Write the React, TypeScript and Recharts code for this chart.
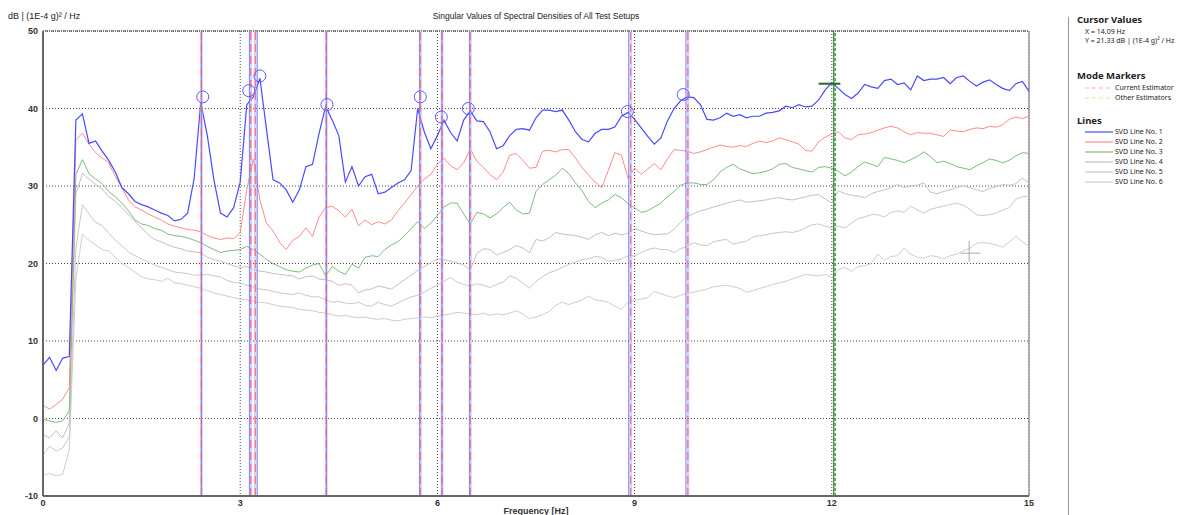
import { LineChart, Line, XAxis, YAxis, CartesianGrid, ReferenceLine, ReferenceDot } from 'recharts';

// frequency axis [Hz]
const freq = [
  0, 0.1, 0.2, 0.3, 0.4, 0.5, 0.6, 0.7, 0.8, 0.9,
  1, 1.1, 1.2, 1.3, 1.4, 1.5, 1.6, 1.7, 1.8, 1.9,
  2, 2.1, 2.2, 2.3, 2.4, 2.5, 2.6, 2.7, 2.8, 2.9,
  3, 3.1, 3.2, 3.3, 3.4, 3.5, 3.6, 3.7, 3.8, 3.9,
  4, 4.1, 4.2, 4.3, 4.4, 4.5, 4.6, 4.7, 4.8, 4.9,
  5, 5.1, 5.2, 5.3, 5.4, 5.5, 5.6, 5.7, 5.8, 5.9,
  6, 6.1, 6.2, 6.3, 6.4, 6.5, 6.6, 6.7, 6.8, 6.9,
  7, 7.1, 7.2, 7.3, 7.4, 7.5, 7.6, 7.7, 7.8, 7.9,
  8, 8.1, 8.2, 8.3, 8.4, 8.5, 8.6, 8.7, 8.8, 8.9,
  9, 9.1, 9.2, 9.3, 9.4, 9.5, 9.6, 9.7, 9.8, 9.9,
  10, 10.1, 10.2, 10.3, 10.4, 10.5, 10.6, 10.7, 10.8, 10.9,
  11, 11.1, 11.2, 11.3, 11.4, 11.5, 11.6, 11.7, 11.8, 11.9,
  12, 12.1, 12.2, 12.3, 12.4, 12.5, 12.6, 12.7, 12.8, 12.9,
  13, 13.1, 13.2, 13.3, 13.4, 13.5, 13.6, 13.7, 13.8, 13.9,
  14, 14.1, 14.2, 14.3, 14.4, 14.5, 14.6, 14.7, 14.8, 14.9,
  15,
];

// singular values in dB
const svd1 = [
  6.9, 7.9, 6.2, 7.8, 8.0, 38.5, 39.3, 35.5, 35.8, 34.5,
  33.3, 31.8, 29.8, 29.0, 28.0, 27.6, 27.3, 26.9, 26.5, 26.2,
  25.5, 25.7, 26.5, 31.0, 40.8, 36.5, 30.8, 26.5, 26.0, 27.2,
  30.5, 40.5, 41.5, 43.9, 37.3, 30.8, 30.4, 29.5, 27.9, 29.5,
  32.5, 32.8, 36.8, 40.3, 38.5, 36.5, 30.5, 32.5, 30.0, 31.2,
  31.5, 29.0, 29.2, 29.8, 30.4, 30.8, 32.0, 40.0, 37.0, 34.8,
  36.5, 38.5, 36.9, 35.8, 38.5, 39.7, 38.4, 38.3, 37.0, 34.8,
  35.2, 36.5, 37.3, 37.4, 37.2, 38.8, 39.8, 39.8, 39.6, 39.8,
  38.5, 37.0, 36.0, 35.7, 36.8, 37.3, 37.3, 37.6, 39.0, 39.5,
  38.6, 37.5, 36.4, 35.4, 36.2, 38.4, 40.0, 41.0, 41.5, 41.4,
  40.5, 38.6, 38.5, 38.8, 39.4, 39.0, 39.2, 38.8, 39.0, 39.0,
  39.4, 39.5, 39.7, 40.3, 40.1, 40.5, 40.2, 40.3, 41.1, 42.4,
  43.3, 42.6, 41.8, 41.3, 42.0, 43.1, 42.8, 42.6, 43.6, 43.8,
  43.1, 43.3, 42.4, 44.2, 43.6, 43.8, 43.8, 44.0, 43.2, 44.0,
  44.2, 43.5, 42.9, 43.4, 43.7, 43.1, 42.6, 42.3, 43.2, 43.5,
  42.2,
];
const svd2 = [
  1.7, 1.2, 1.8, 2.5, 4.0, 36.0, 36.8, 35.4, 34.3, 33.6,
  33.0, 31.2, 29.8, 28.2, 27.3, 26.9, 26.4, 26.0, 25.6, 25.1,
  24.8, 24.6, 24.4, 24.3, 24.1, 23.6, 23.3, 23.1, 23.3, 23.2,
  24.0, 29.5, 33.5, 28.2, 25.2, 24.2, 22.7, 21.8, 23.0, 23.5,
  24.6, 23.5, 26.0, 27.2, 27.4, 26.8, 26.0, 27.0, 24.9, 25.6,
  25.0, 25.4, 25.1, 25.6, 26.8, 27.8, 28.9, 30.0, 30.9, 31.5,
  32.8, 33.6, 32.6, 32.1, 33.0, 34.8, 33.2, 32.4, 31.5, 30.8,
  31.8, 34.0, 34.2, 33.3, 32.3, 32.4, 34.5, 34.6, 34.4, 34.7,
  34.7, 33.6, 32.4, 31.4, 30.5, 29.8, 32.0, 34.3, 34.0, 31.0,
  32.3, 31.5, 32.2, 32.9, 32.1, 33.5, 34.7, 34.6, 34.5, 34.2,
  34.4, 34.7, 35.0, 35.3, 35.1, 35.0, 35.2, 35.1, 35.5, 35.8,
  35.6, 35.8, 36.2, 36.0, 35.7, 35.4, 34.6, 34.5, 35.7, 36.3,
  36.7, 37.0, 36.2, 36.0, 36.6, 36.7, 36.9, 37.2, 37.5, 37.7,
  37.5, 37.0, 36.6, 36.9, 36.8, 36.8, 36.6, 36.4, 37.2, 37.1,
  37.0, 37.3, 37.5, 37.4, 37.7, 37.6, 37.9, 38.6, 38.9, 38.7,
  39.0,
];
const svd3 = [
  -0.1, -0.3, -0.5, -0.3, 1.0, 31.5, 33.4, 31.6, 30.9, 30.3,
  29.3, 28.6, 27.8, 26.8, 25.6, 25.1, 24.9, 24.5, 24.3, 23.8,
  23.6, 23.5, 23.3, 23.0, 22.7, 22.2, 21.8, 21.4, 21.6, 21.7,
  21.8, 22.2, 21.8, 21.2, 20.5, 20.0, 19.6, 19.2, 19.0, 18.9,
  19.4, 19.8, 20.0, 18.4, 19.6, 19.0, 18.6, 19.9, 19.4, 20.8,
  21.0, 20.9, 21.8, 22.4, 22.8, 23.6, 24.5, 25.4, 24.5, 25.2,
  26.2, 27.3, 27.8, 27.8, 26.4, 25.1, 26.6, 26.4, 25.9, 26.4,
  27.2, 27.9, 26.9, 26.4, 26.5, 29.3, 30.2, 30.8, 31.4, 32.3,
  31.6, 30.4, 29.4, 28.0, 27.2, 27.8, 28.2, 28.9, 28.5, 27.7,
  27.2, 26.6, 26.8, 27.3, 27.8, 28.6, 29.3, 30.1, 30.4, 30.4,
  30.2, 30.2, 30.8, 31.8, 32.4, 32.8, 32.2, 31.9, 31.6, 31.7,
  31.9, 32.2, 32.8, 32.9, 32.4, 32.2, 32.0, 31.8, 32.4, 32.5,
  32.3, 31.9, 31.3, 31.8, 32.5, 33.1, 32.8, 32.5, 33.7, 33.5,
  33.3, 33.0, 33.4, 33.8, 34.4, 33.8, 33.0, 33.2, 32.9, 32.5,
  32.3, 32.1, 32.6, 33.0, 33.5, 33.3, 33.0, 33.3, 33.9, 34.3,
  34.2,
];
const svd4 = [
  -2.1, -2.5, -1.6, -2.5, -0.6, 29.0, 31.6, 30.9, 30.2, 29.6,
  28.6, 28.0, 27.2, 26.3, 25.4, 24.6, 23.7, 23.1, 22.8, 22.4,
  22.1, 21.9, 21.6, 21.5, 21.4, 20.8, 20.5, 20.3, 20.0, 19.7,
  19.5, 19.6, 19.2, 19.0, 18.9, 18.7, 18.6, 18.5, 18.4, 18.0,
  18.3, 18.4, 18.0, 17.9, 17.7, 17.2, 17.4, 17.2, 16.2, 16.6,
  16.7, 17.1, 16.9, 16.7, 17.3, 17.9, 18.5, 19.1, 19.6, 20.1,
  20.6, 20.5, 20.3, 20.1, 19.8, 19.2, 21.3, 21.9, 21.8, 21.1,
  21.4, 21.8, 22.3, 22.0, 21.4, 23.1, 22.9, 23.3, 24.0, 23.8,
  23.7, 23.6, 23.4, 23.1, 23.7, 24.0, 23.6, 23.9, 23.7, 23.9,
  24.5, 24.2, 23.9, 23.7, 23.8, 23.8, 24.4, 25.3, 26.1, 26.4,
  26.8, 27.0, 27.3, 27.5, 27.8, 28.0, 28.2, 27.9, 28.0, 28.1,
  28.2, 28.4, 28.5, 28.3, 28.2, 28.4, 28.6, 28.8, 28.9, 28.3,
  27.8, 29.4, 29.0, 28.8, 28.7, 28.5, 29.0, 29.3, 29.5, 29.8,
  30.2, 29.8, 30.0, 30.1, 30.4, 29.2, 29.0, 29.3, 29.5, 29.8,
  30.0, 29.8, 29.5, 29.3, 29.7, 29.9, 30.2, 30.1, 30.3, 31.0,
  30.4,
];
const svd5 = [
  -4.7, -3.6, -4.2, -3.8, -2.4, 22.0, 27.6, 26.4, 25.3, 24.9,
  23.9, 23.0, 22.3, 21.5, 21.0, 20.6, 20.2, 19.8, 19.5, 19.2,
  18.9, 18.8, 18.7, 18.5, 18.5, 18.6, 18.4, 18.3, 17.8, 17.6,
  17.5, 17.2, 17.0, 16.7, 16.6, 16.4, 16.2, 16.1, 16.0, 16.2,
  15.9, 15.7, 15.7, 15.3, 15.0, 15.1, 14.9, 14.8, 15.0, 14.6,
  14.5, 15.0, 14.7, 14.5, 14.9, 15.3, 15.7, 15.9, 16.3, 16.8,
  17.2, 17.7, 18.2, 17.6, 17.3, 17.1, 17.4, 17.2, 16.9, 17.3,
  17.6, 18.4, 18.1, 17.5, 16.8, 17.7, 18.3, 18.8, 19.1, 19.5,
  19.9, 20.2, 20.5, 20.6, 20.9, 20.8, 20.3, 20.4, 20.6, 21.0,
  21.0, 21.4, 21.8, 22.0, 21.8, 21.8, 21.4, 21.9, 22.2, 22.7,
  22.4, 22.3, 22.8, 23.0, 23.1, 22.5, 22.7, 22.9, 23.4, 23.6,
  23.7, 23.9, 24.0, 24.1, 24.0, 24.2, 24.6, 25.0, 25.1, 24.8,
  24.6, 24.8, 24.6, 25.2, 25.8, 26.0, 26.3, 26.3, 26.0, 26.6,
  26.8, 26.6, 27.4, 26.9, 26.5, 27.0, 27.2, 27.4, 27.6, 27.8,
  27.5, 27.0, 26.3, 26.2, 26.3, 26.5, 26.9, 27.2, 28.3, 28.6,
  28.7,
];
const svd6 = [
  -7.3, -7.1, -7.4, -7.2, -4.0, 18.0, 23.8, 23.0, 22.4, 21.8,
  21.6, 20.8, 20.0, 19.5, 18.9, 18.3, 18.0, 17.9, 17.7, 18.1,
  17.5, 17.4, 17.2, 17.0, 16.8, 16.5, 16.2, 16.0, 15.8, 15.6,
  15.4, 15.3, 15.1, 15.0, 14.9, 14.7, 14.5, 14.4, 14.3, 14.1,
  14.0, 13.9, 13.7, 13.6, 13.4, 13.2, 13.3, 13.1, 13.0, 13.1,
  12.9, 12.8, 12.9, 12.7, 12.6, 12.8, 12.9, 13.0, 13.1, 13.0,
  13.2, 13.4, 13.5, 13.7, 13.6, 13.5, 13.4, 13.6, 13.3, 13.5,
  13.4, 13.6, 13.9, 13.5, 12.9, 13.1, 13.4, 13.8, 14.6, 15.0,
  14.7, 15.0, 15.3, 15.8, 15.3, 15.2, 15.0, 14.5, 14.1, 15.0,
  15.3, 15.4, 15.6, 16.4, 16.1, 15.8, 15.6, 15.9, 16.2, 16.3,
  16.5, 16.7, 17.0, 17.1, 17.2, 17.0, 16.8, 16.3, 16.5, 16.8,
  17.0, 17.3, 17.5, 17.7, 18.0, 18.3, 18.6, 18.5, 18.4, 18.6,
  18.2, 19.2, 19.5, 19.0, 19.6, 19.7, 20.0, 21.2, 20.4, 20.9,
  21.0, 22.0, 21.2, 20.8, 20.7, 21.0, 20.9, 20.6, 21.0, 21.2,
  21.6, 22.0, 22.6, 22.7, 22.6, 22.4, 22.1, 22.8, 23.5, 22.8,
  22.2,
];

// mode markers (current estimator) and picked peaks
const modeFreqs = [2.41, 3.16, 3.23, 4.31, 5.74, 6.07, 6.5, 8.94, 9.81];
const pickFreqs = [2.41, 3.14, 3.26, 4.31, 5.73, 6.07, 6.49, 8.91, 9.78];
const peakFreqs = [2.43, 3.13, 3.3, 4.32, 5.74, 6.06, 6.47, 8.89, 9.74];
const peakDb = [41.5, 42.3, 44.2, 40.5, 41.5, 38.9, 40.0, 39.6, 41.8];

const xTicks = [0, 3, 6, 9, 12, 15];
const yTicks = [-10, 0, 10, 20, 30, 40, 50];

const cursorX = 14.09;
const cursorY = 21.33;
const markerCursor = 12.03;
const markerLevel = 43.2;

const lineNames = ['SVD Line No. 1', 'SVD Line No. 2', 'SVD Line No. 3', 'SVD Line No. 4', 'SVD Line No. 5', 'SVD Line No. 6'];
const lineColors = ['#4a4aff', '#ff8a8a', '#7cbc7c', '#c2c2c2', '#c8c8c8', '#cecece'];

const rows = freq.map((f, i) => ({
  f,
  s1: svd1[i],
  s2: svd2[i],
  s3: svd3[i],
  s4: svd4[i],
  s5: svd5[i],
  s6: svd6[i],
}));

const tickStyle = { fontFamily: 'Liberation Sans, Arial, sans-serif', fontSize: 9, fontWeight: 'bold', fill: '#333' };
const legendFont = '"Noto Sans", "Open Sans", sans-serif';

function Sample({ color, dashed }: { color: string; dashed?: boolean }) {
  return (
    <svg width={28} height={4} style={{ display: 'block' }}>
      <line x1={0} y1={2} x2={28} y2={2} stroke={color} strokeWidth={1.2} strokeDasharray={dashed ? '4 3' : undefined} />
    </svg>
  );
}

export default function App() {
  return (
    <div style={{ position: 'absolute', left: 0, top: 0, width: 1180, height: 515, background: '#fff', overflow: 'hidden' }}>
      <LineChart width={1180} height={515} data={rows} margin={{ top: 31, right: 151, bottom: 3, left: 13 }}>
        <CartesianGrid stroke="#444" strokeDasharray="1 2" />
        <XAxis
          dataKey="f"
          type="number"
          domain={[0, 15]}
          ticks={xTicks}
          tick={tickStyle}
          tickLine={false}
          tickSize={2}
          height={16}
          axisLine={{ stroke: '#666', strokeWidth: 2 }}
        />
        <YAxis
          type="number"
          domain={[-10, 50]}
          ticks={yTicks}
          tick={tickStyle}
          tickLine={false}
          tickSize={3}
          width={30}
          allowDataOverflow
          axisLine={{ stroke: '#666', strokeWidth: 2 }}
        />
        <ReferenceLine y={50} stroke="#777" strokeWidth={2} strokeDasharray="1 1" />
        <ReferenceLine x={15} stroke="#999" strokeWidth={1.5} />

        <Line dataKey="s6" stroke={lineColors[5]} strokeWidth={1} dot={false} isAnimationActive={false} />
        <Line dataKey="s5" stroke={lineColors[4]} strokeWidth={1} dot={false} isAnimationActive={false} />
        <Line dataKey="s4" stroke={lineColors[3]} strokeWidth={1} dot={false} isAnimationActive={false} />
        <Line dataKey="s3" stroke={lineColors[2]} strokeWidth={1} dot={false} isAnimationActive={false} />
        <Line dataKey="s2" stroke={lineColors[1]} strokeWidth={1} dot={false} isAnimationActive={false} />
        <Line dataKey="s1" stroke={lineColors[0]} strokeWidth={1.2} dot={false} isAnimationActive={false} />

        {modeFreqs.map((f) => (
          <ReferenceLine key={`band-${f}`} x={f} stroke="#b8b8ff" strokeOpacity={0.6} strokeWidth={3} />
        ))}
        {pickFreqs.map((f) => (
          <ReferenceLine key={`pick-${f}`} x={f} stroke="#6a6aff" strokeOpacity={0.8} strokeWidth={1} />
        ))}
        {modeFreqs.map((f) => (
          <ReferenceLine key={`mode-${f}`} x={f} stroke="#ff5a5a" strokeOpacity={0.75} strokeWidth={1.3} strokeDasharray="8 4" />
        ))}
        {peakFreqs.map((f, i) => (
          <ReferenceDot key={`peak-${f}`} x={f} y={peakDb[i]} r={6} fill="none" stroke="#5a5aff" strokeWidth={1} />
        ))}

        <ReferenceLine x={markerCursor} stroke="#2a7d2a" strokeWidth={1.2} />
        <ReferenceLine x={markerCursor + 0.02} stroke="#3f9a3f" strokeWidth={1.5} strokeDasharray="3 2" />
        <ReferenceLine
          segment={[{ x: markerCursor - 0.23, y: markerLevel }, { x: markerCursor + 0.1, y: markerLevel }]}
          stroke="#1e6e1e"
          strokeWidth={2}
        />
        <ReferenceLine
          segment={[{ x: cursorX - 0.13, y: cursorY }, { x: cursorX + 0.17, y: cursorY }]}
          stroke="#aaa"
          strokeWidth={1}
        />
        <ReferenceLine
          segment={[{ x: cursorX, y: cursorY - 1.1 }, { x: cursorX, y: cursorY + 1.6 }]}
          stroke="#aaa"
          strokeWidth={1}
        />
      </LineChart>

      <div style={{ position: 'absolute', left: 8, top: 11, fontFamily: 'Liberation Sans, Arial, sans-serif', fontSize: 9, color: '#222' }}>
        dB | (1E-4 g)² / Hz
      </div>
      <div style={{ position: 'absolute', left: 336, width: 400, top: 11, textAlign: 'center', fontFamily: 'Liberation Sans, Arial, sans-serif', fontSize: 8.5, color: '#222' }}>
        Singular Values of Spectral Densities of All Test Setups
      </div>
      <div style={{ position: 'absolute', left: 436, width: 200, top: 506, textAlign: 'center', fontFamily: 'Liberation Sans, Arial, sans-serif', fontSize: 9, fontWeight: 'bold', color: '#333' }}>
        Frequency [Hz]
      </div>

      <div style={{ position: 'absolute', left: 1068, top: 17, width: 1, height: 498, background: '#9a9a9a' }} />
      <div style={{ position: 'absolute', left: 1077, top: 0, fontFamily: legendFont, color: '#222' }}>
        <div style={{ position: 'absolute', top: 13, fontSize: 9.5, fontWeight: 'bold', whiteSpace: 'nowrap' }}>Cursor Values</div>
        <div style={{ position: 'absolute', left: 8, top: 27, fontSize: 7, whiteSpace: 'nowrap' }}>X = 14.09 Hz</div>
        <div style={{ position: 'absolute', left: 8, top: 36, fontSize: 7, whiteSpace: 'nowrap' }}>Y = 21.33 dB | (1E-4 g)² / Hz</div>

        <div style={{ position: 'absolute', top: 69, fontSize: 9.5, fontWeight: 'bold', whiteSpace: 'nowrap' }}>Mode Markers</div>
        <div style={{ position: 'absolute', left: 8, top: 86 }}><Sample color="#ffb0b0" dashed /></div>
        <div style={{ position: 'absolute', left: 38, top: 83, fontSize: 7, whiteSpace: 'nowrap' }}>Current Estimator</div>
        <div style={{ position: 'absolute', left: 8, top: 96 }}><Sample color="#ffd8a0" dashed /></div>
        <div style={{ position: 'absolute', left: 38, top: 93, fontSize: 7, whiteSpace: 'nowrap' }}>Other Estimators</div>

        <div style={{ position: 'absolute', top: 114, fontSize: 9.5, fontWeight: 'bold', whiteSpace: 'nowrap' }}>Lines</div>
        {lineNames.map((name, i) => (
          <div key={name}>
            <div style={{ position: 'absolute', left: 8, top: 130 + i * 10 }}><Sample color={lineColors[i]} /></div>
            <div style={{ position: 'absolute', left: 38, top: 127 + i * 10, fontSize: 7, whiteSpace: 'nowrap' }}>{name}</div>
          </div>
        ))}
      </div>
    </div>
  );
}
